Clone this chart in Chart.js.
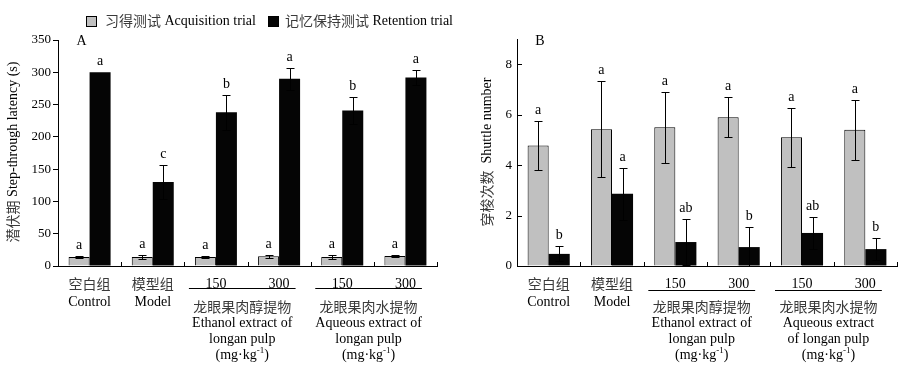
<!DOCTYPE html>
<html><head><meta charset="utf-8">
<script src="https://cdn.jsdelivr.net/npm/chart.js@4"></script>
<style>
html,body{margin:0;padding:0;background:#fff;}
#wrap{position:relative;width:908px;height:380px;overflow:hidden;}
#c1{position:absolute;left:0;top:0;}
#c2{position:absolute;left:460px;top:0;}
</style></head><body>
<div id="wrap"><canvas id="c1" width="460" height="380"></canvas><canvas id="c2" width="448" height="380"></canvas></div>
<script>
// ---- data ----
const categories = ['空白组', '模型组', '150', '300', '150', '300'];
const categoriesEn = ['Control', 'Model', '', '', '', ''];
const seriesNames = ['习得测试 Acquisition trial', '记忆保持测试 Retention trial'];

const latencyAcq = [14, 14, 14, 15, 14, 15.5];
const latencyAcqErr = [1.3, 2.5, 1.3, 2.5, 2.5, 1.3];
const latencyRet = [300, 130, 238, 290, 241, 292];
const latencyRetErr = [0, 27, 27, 17, 21, 12];
const latencyAcqSig = ['a', 'a', 'a', 'a', 'a', 'a'];
const latencyRetSig = ['a', 'c', 'b', 'a', 'b', 'a'];
const latencyTicks = [0, 50, 100, 150, 200, 250, 300, 350];

const shuttleAcq = [4.78, 5.42, 5.5, 5.9, 5.1, 5.4];
const shuttleAcqErr = [0.97, 1.9, 1.4, 0.8, 1.17, 1.2];
const shuttleRet = [0.48, 2.86, 0.95, 0.75, 1.31, 0.67];
const shuttleRetErr = [0.3, 1.02, 0.9, 0.79, 0.62, 0.43];
const shuttleAcqSig = ['a', 'a', 'a', 'a', 'a', 'a'];
const shuttleRetSig = ['b', 'a', 'ab', 'b', 'ab', 'b'];
const shuttleTicks = [0, 2, 4, 6, 8];

const groupsA = [
  {from: 2, to: 3, lines: ['龙眼果肉醇提物', 'Ethanol extract of', 'longan pulp', '(mg·kg⁻¹)']},
  {from: 4, to: 5, lines: ['龙眼果肉水提物', 'Aqueous extract of', 'longan pulp', '(mg·kg⁻¹)']}
];
const groupsB = [
  {from: 2, to: 3, lines: ['龙眼果肉醇提物', 'Ethanol extract of', 'longan pulp', '(mg·kg⁻¹)']},
  {from: 4, to: 5, lines: ['龙眼果肉水提物', 'Aqueous extract', 'of longan pulp', '(mg·kg⁻¹)']}
];

// ---- text helpers ----
const LATIN = '"Liberation Serif", "Times New Roman", serif';
const CJK = '"Noto Sans CJK SC", sans-serif';
function cls(ch){
  if (ch === '⁻' || ch === '¹') return 'sup';
  const c = ch.codePointAt(0);
  if (c >= 0x2E80 && c !== 0xB7) return 'cjk';
  return 'lat';
}
function runs(text){
  const out = [];
  for (const ch of text){
    const k = cls(ch);
    let t = ch;
    if (k === 'sup') t = ch === '⁻' ? '-' : '1';
    if (out.length && out[out.length-1].k === k) out[out.length-1].t += t;
    else out.push({k, t});
  }
  return out;
}
function fontFor(k, size){
  if (k === 'cjk') return size + 'px ' + CJK;
  if (k === 'sup') return (size*0.64).toFixed(1) + 'px ' + LATIN;
  return size + 'px ' + LATIN;
}
function drawMixed(ctx, text, x, y, align, size){
  const rs = runs(text);
  let total = 0;
  rs.forEach(r => { ctx.font = fontFor(r.k, size); r.w = ctx.measureText(r.t).width; total += r.w; });
  let cx = align === 'center' ? x - total/2 : (align === 'right' ? x - total : x);
  ctx.textAlign = 'left';
  ctx.textBaseline = 'middle';
  rs.forEach(r => {
    ctx.font = fontFor(r.k, size);
    ctx.fillStyle = r.k === 'cjk' ? '#3a3a3a' : '#000';
    ctx.fillText(r.t, cx, r.k === 'sup' ? y - size*0.33 : y);
    cx += r.w;
  });
}

function makePlugin(opt){
  return {
    id: 'custom' + opt.panel,
    afterDatasetsDraw(chart){
      const ctx = chart.ctx, xs = chart.scales.x, ys = chart.scales.y, area = chart.chartArea;
      ctx.save();
      ctx.strokeStyle = '#000';
      ctx.lineWidth = 1;
      // error bars + significance letters
      chart.data.datasets.forEach((ds, di) => {
        const meta = chart.getDatasetMeta(di);
        meta.data.forEach((bar, i) => {
          const v = ds.data[i], e = ds.errors[i];
          const px = Math.round(bar.x) + 0.5;
          const yT = Math.round(ys.getPixelForValue(v + e)) + 0.5;
          const yB = Math.round(ys.getPixelForValue(Math.max(0, v - e))) + 0.5;
          if (e > 0){
            ctx.beginPath();
            ctx.moveTo(px, yB); ctx.lineTo(px, yT);
            ctx.moveTo(px - 4, yT); ctx.lineTo(px + 4, yT);
            ctx.moveTo(px - 4, yB); ctx.lineTo(px + 4, yB);
            ctx.stroke();
          }
          ctx.font = '14px ' + LATIN;
          ctx.fillStyle = '#000';
          ctx.textAlign = 'center';
          ctx.textBaseline = 'alphabetic';
          ctx.fillText(ds.sig[i], bar.x, ys.getPixelForValue(v + e) - 7);
        });
      });
      // inward x ticks at group boundaries
      const n = chart.data.labels.length;
      ctx.beginPath();
      for (let i = 0; i < n; i++){
        const bx = Math.round(xs.getPixelForValue(i + 0.5)) + 0.5;
        ctx.moveTo(bx, area.bottom); ctx.lineTo(bx, area.bottom - 4);
      }
      if (opt.inwardY){
        ys.ticks.forEach(t => {
          const ty = Math.round(ys.getPixelForValue(t.value)) + 0.5;
          ctx.moveTo(area.left, ty); ctx.lineTo(area.left + 5, ty);
        });
      }
      ctx.stroke();
      // x labels
      chart.data.labels.forEach((lab, i) => {
        const cx = xs.getPixelForValue(i);
        drawMixed(ctx, lab, cx, 284, 'center', 14);
        if (categoriesEn[i]) drawMixed(ctx, categoriesEn[i], cx, 302, 'center', 14);
      });
      // extract group brackets
      opt.groups.forEach(g => {
        const x1 = xs.getPixelForValue(g.from) - 27, x2 = xs.getPixelForValue(g.to) + 16.5;
        ctx.beginPath();
        ctx.moveTo(x1, opt.bracketY + 0.5); ctx.lineTo(x2, opt.bracketY + 0.5);
        ctx.stroke();
        const mid = (x1 + x2) / 2;
        g.lines.forEach((ln, k) => drawMixed(ctx, ln, mid, 307 + k*16, 'center', 14));
      });
      // y title
      ctx.save();
      ctx.translate(opt.titleX, 152);
      ctx.rotate(-Math.PI/2);
      drawMixed(ctx, opt.yTitle, 0, 0, 'center', 14);
      ctx.restore();
      // panel letter
      drawMixed(ctx, opt.panel, opt.panelX, 41, 'center', 14);
      // legend
      if (opt.legend){
        const items = chart.data.datasets;
        const pos = [[86.5, 105], [268.5, 285]];
        items.forEach((ds, k) => {
          ctx.fillStyle = ds.backgroundColor;
          ctx.fillRect(pos[k][0], 16.5, 10, 10);
          ctx.strokeStyle = '#000';
          ctx.strokeRect(pos[k][0], 16.5, 10, 10);
          drawMixed(ctx, ds.label, pos[k][1], 21, 'left', 14);
        });
      }
      ctx.restore();
    }
  };
}

function makeChart(id, cfg){
  return new Chart(document.getElementById(id), {
    type: 'bar',
    data: {
      labels: categories,
      datasets: [
        {label: seriesNames[0], data: cfg.acq, errors: cfg.acqErr, sig: cfg.acqSig,
         backgroundColor: '#c0c0c0', borderColor: '#000', borderWidth: 1,
         categoryPercentage: 0.665, barPercentage: 1.0},
        {label: seriesNames[1], data: cfg.ret, errors: cfg.retErr, sig: cfg.retSig,
         backgroundColor: '#050505', borderColor: '#000', borderWidth: 0,
         categoryPercentage: 0.665, barPercentage: 1.0}
      ]
    },
    options: {
      responsive: false, animation: false, devicePixelRatio: 1,
      layout: {padding: cfg.padding},
      plugins: {legend: {display: false}, tooltip: {enabled: false}, title: {display: false}},
      scales: {
        x: {
          grid: {display: false},
          border: {display: true, color: '#000', width: 1},
          ticks: {display: false},
          afterFit: s => { s.height = 114; }
        },
        y: {
          min: 0, max: cfg.max,
          grid: {display: true, drawOnChartArea: false, drawTicks: !cfg.inwardY, tickLength: 5, color: '#000'},
          border: {display: true, color: '#000', width: 1},
          ticks: {stepSize: cfg.step, padding: cfg.inwardY ? 5 : 2, color: '#000', font: {family: LATIN, size: 13}},
          afterBuildTicks: s => { s.ticks = cfg.ticks.map(v => ({value: v})); },
          afterFit: s => { s.width = cfg.yWidth; }
        }
      }
    },
    plugins: [makePlugin(cfg)]
  });
}

makeChart('c1', {
  panel: 'A', panelX: 81.5, legend: true, titleX: 13, yTitle: '潜伏期 Step-through latency (s)',
  acq: latencyAcq, acqErr: latencyAcqErr, acqSig: latencyAcqSig,
  ret: latencyRet, retErr: latencyRetErr, retSig: latencyRetSig,
  max: 350, step: 50, ticks: latencyTicks, yWidth: 58, inwardY: false,
  padding: {top: 40, right: 23, left: 0, bottom: 0},
  groups: groupsA, bracketY: 288
});
makeChart('c2', {
  panel: 'B', panelX: 80, legend: false, titleX: 27, yTitle: '穿梭次数  Shuttle number',
  acq: shuttleAcq, acqErr: shuttleAcqErr, acqSig: shuttleAcqSig,
  ret: shuttleRet, retErr: shuttleRetErr, retSig: shuttleRetSig,
  max: 9, step: 2, ticks: shuttleTicks, yWidth: 57, inwardY: true,
  padding: {top: 39, right: 11, left: 0, bottom: 0},
  groups: groupsB, bracketY: 290
});
</script>
</body></html>
